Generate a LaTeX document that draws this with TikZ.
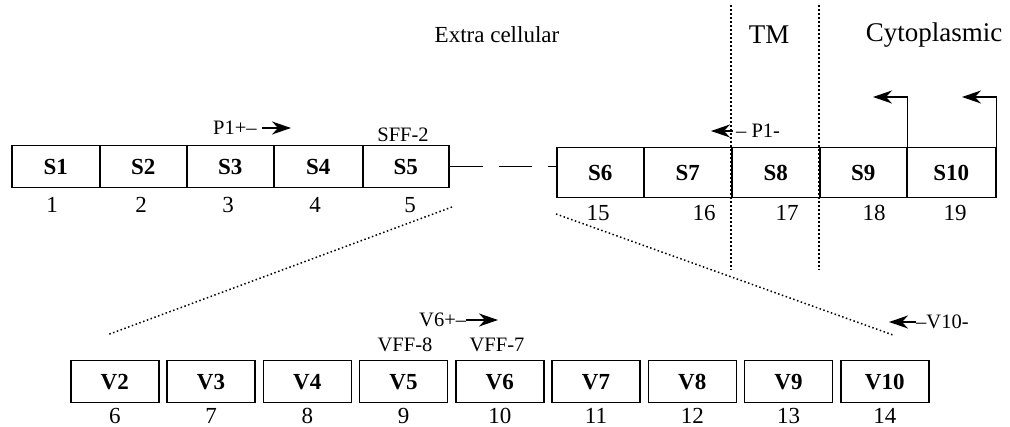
\documentclass[tikz,border=0pt]{standalone}
\usepackage{fontspec}
\setmainfont{Liberation Serif}
\usetikzlibrary{arrows.meta,calc}
\begin{document}
\begin{tikzpicture}[x=1pt,y=-1pt,
  seg/.style={draw, line width=1.5pt, minimum height=42pt, inner sep=0pt,
    anchor=north west, font=\fontsize{23}{23}\selectfont\bfseries},
  tallseg/.style={seg, minimum height=50pt},
  vbox/.style={seg, minimum width=88pt},
  num/.style={font=\fontsize{23}{23}\selectfont, inner sep=0pt},
  tag/.style={font=\fontsize{20.5}{20.5}\selectfont, inner sep=0pt},
  head/.style={font=\fontsize{23}{23}\selectfont, inner sep=0pt},
  bighead/.style={font=\fontsize{27}{27}\selectfont, inner sep=0pt},
  tip/.style={line width=1.3pt, -{Stealth[length=19pt, width=13pt, inset=6pt]}},
  zone/.style={line width=2.2pt, dash pattern=on 2pt off 2pt},
  zoom/.style={line width=1.5pt, dash pattern=on 1.5pt off 2.5pt},
  gap/.style={line width=1.5pt, dash pattern=on 33pt off 16pt}]
\path[use as bounding box] (0,0) rectangle (1010,427);

% region headings
\node[head] (hx) at (497,35) {Extra cellular};
\node[bighead] (htm) at (769,35) {TM};
\node[bighead] (hc) at (934,35) {Cytoplasmic};

% membrane boundaries
\coordinate (tma) at (731,5);
\coordinate (tmb) at (731,270);
\coordinate (tmc) at (819,5);
\coordinate (tmd) at (819,270);
\draw[zone] (tma) -- (tmb);
\draw[zone] (tmc) -- (tmd);

% upper row, N-terminal segments
\node[seg, minimum width=88pt] (s1) at (11,145) {S1};
\node[seg, minimum width=87pt] (s2) at (99,145) {S2};
\node[seg, minimum width=87pt] (s3) at (186,145) {S3};
\node[seg, minimum width=89pt] (s4) at (273,145) {S4};
\node[seg, minimum width=86pt] (s5) at (362,145) {S5};

% upper row, C-terminal segments
\node[tallseg, minimum width=87pt] (s6) at (556,147) {S6};
\node[tallseg, minimum width=88pt] (s7) at (643,147) {S7};
\node[tallseg, minimum width=88pt] (s8) at (731,147) {S8};
\node[tallseg, minimum width=87pt] (s9) at (819,147) {S9};
\node[tallseg, minimum width=89pt] (s10) at (906,147) {S10};

% gap between the two parts
\draw[gap] (s5.east) -- (s6.west |- s5.east);

% numbers under the upper row
\node[num] (n1) at (52,205) {1};
\node[num] (n2) at (141,205) {2};
\node[num] (n3) at (228,205) {3};
\node[num] (n4) at (315,205) {4};
\node[num] (n5) at (410,205) {5};
\node[num] (n15) at (598,213) {15};
\node[num] (n16) at (704,213) {16};
\node[num] (n17) at (787,213) {17};
\node[num] (n18) at (874,213) {18};
\node[num] (n19) at (955,213) {19};

% labels over the upper row
\node[tag] (sff) at (403,135) {SFF-2};
\node[tag, anchor=west] (p1p) at (213,128) {P1+--};
\coordinate (p1pt) at (291,128);
\draw[tip] ($(p1p.east)+(5,0)$) -- (p1pt);
\node[tag, anchor=west] (p1m) at (736,131) {-- P1-};
\coordinate (p1mt) at (711,131);
\draw[tip] ($(p1m.west)+(-3,0)$) -- (p1mt);

% turn arrows over S9 and S10
\coordinate (a9) at (873,97);
\coordinate (a10) at (962,97);
\draw[tip] (s9.north east) |- (a9);
\draw[tip] (s10.north east) |- (a10);

% expansion lines
\coordinate (za) at (452,207);
\coordinate (zb) at (107,335);
\coordinate (zc) at (556,214);
\coordinate (zd) at (893,335);
\draw[zoom] (za) -- (zb);
\draw[zoom] (zc) -- (zd);

% lower row, variable segments
\foreach \k [count=\i from 0] in {2,...,10}{
  \node[vbox] (v\k) at (70+96.25*\i,360) {V\k};
  \pgfmathtruncatemacro{\nn}{\k+4}
  \node[num] (m\k) at ($(v\k.south)+(0,12)$) {\nn};
}

% labels over the lower row
\node[tag] (vff8) at (405,345) {VFF-8};
\node[tag] (vff7) at (497,345) {VFF-7};
\node[tag, anchor=west] (v6p) at (419,320) {V6+--};
\coordinate (v6t) at (498,320);
\draw[tip] (v6p.east) -- (v6t);
\node[tag, anchor=west] (v10m) at (916,322) {--V10-};
\coordinate (v10t) at (889,322);
\draw[tip] (v10m.west) -- (v10t);
\end{tikzpicture}
\end{document}
